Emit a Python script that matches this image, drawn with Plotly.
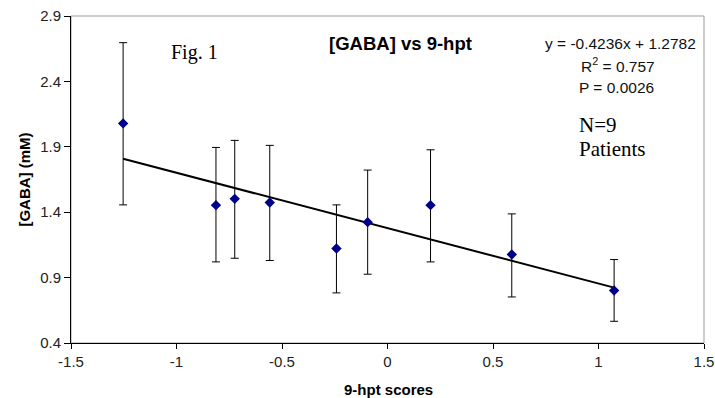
import plotly.graph_objects as go

# Data
hpt_scores = [-1.253, -0.813, -0.724, -0.558, -0.242, -0.094, 0.204, 0.589, 1.074]
gaba_mM = [2.079, 1.454, 1.502, 1.474, 1.122, 1.324, 1.454, 1.077, 0.801]
gaba_upper = [2.696, 1.895, 1.949, 1.911, 1.456, 1.722, 1.877, 1.387, 1.038]
gaba_lower = [1.456, 1.020, 1.048, 1.031, 0.783, 0.926, 1.020, 0.752, 0.566]

fit_slope = -0.4236
fit_intercept = 1.2782

x_tickvals = [-1.5, -1.0, -0.5, 0.0, 0.5, 1.0, 1.5]
x_ticktext = ["-1.5", "-1", "-0.5", "0", "0.5", "1", "1.5"]
y_tickvals = [0.4, 0.9, 1.4, 1.9, 2.4, 2.9]
y_ticktext = ["0.4", "0.9", "1.4", "1.9", "2.4", "2.9"]

err_plus = [u - v for u, v in zip(gaba_upper, gaba_mM)]
err_minus = [v - l for v, l in zip(gaba_mM, gaba_lower)]

fit_x = [min(hpt_scores), max(hpt_scores)]
fit_y = [fit_slope * x + fit_intercept for x in fit_x]

SANS = "Liberation Sans, Arial, sans-serif"
SERIF = "Liberation Serif, Times New Roman, serif"

fig = go.Figure()
fig.add_trace(go.Scatter(
    x=fit_x, y=fit_y, mode="lines",
    line=dict(color="black", width=2), showlegend=False, hoverinfo="skip"))
fig.add_trace(go.Scatter(
    x=hpt_scores, y=gaba_mM, mode="markers",
    marker=dict(symbol="diamond", size=8, color="#00008B"),
    error_y=dict(type="data", array=err_plus, arrayminus=err_minus,
                 color="black", thickness=1, width=4, symmetric=False),
    showlegend=False))

fig.add_shape(type="rect", xref="paper", yref="paper", x0=0, y0=0, x1=1, y1=1,
              line=dict(color="#999999", width=1), layer="below")

anns = [
    dict(text="<b>[GABA] vs 9-hpt</b>", x=0.520, y=0.916, font=dict(family=SANS, size=18.5, color="black")),
    dict(text="Fig. 1", x=0.195, y=0.888, font=dict(family=SERIF, size=20, color="black")),
    dict(text="y = -0.4236x + 1.2782", x=0.868, y=0.915, font=dict(family=SANS, size=15.5, color="#111111")),
    dict(text="R<sup>2</sup> = 0.757", x=0.864, y=0.850, font=dict(family=SANS, size=15.5, color="#111111")),
    dict(text="P = 0.0026", x=0.862, y=0.780, font=dict(family=SANS, size=15.5, color="#111111")),
    dict(text="N=9", x=0.800, y=0.666, xanchor="left", font=dict(family=SERIF, size=21, color="black")),
    dict(text="Patients", x=0.800, y=0.592, xanchor="left", font=dict(family=SERIF, size=21, color="black")),
    dict(text="<b>9-hpt scores</b>", x=0.502, y=-0.142, font=dict(family=SANS, size=15, color="black")),
]
for a in anns:
    a.setdefault("xanchor", "center")
    fig.add_annotation(xref="paper", yref="paper", showarrow=False, yanchor="middle", **a)

fig.update_layout(
    width=715, height=398,
    margin=dict(l=71, r=11, t=16, b=55),
    paper_bgcolor="white", plot_bgcolor="white",
    xaxis=dict(range=[-1.5, 1.5], tickvals=x_tickvals, ticktext=x_ticktext, automargin=False,
               showgrid=False, zeroline=False, showline=True, linecolor="black", linewidth=1,
               ticks="outside", ticklen=5, tickcolor="black",
               tickfont=dict(family=SANS, size=15, color="#222222")),
    yaxis=dict(range=[0.4, 2.9], tickvals=y_tickvals, ticktext=y_ticktext, automargin=False,
               showgrid=False, zeroline=False, showline=True, linecolor="black", linewidth=1,
               ticks="outside", ticklen=6, tickcolor="black",
               tickfont=dict(family=SANS, size=15, color="#222222"),
               title=dict(text="<b>[GABA] (mM)</b>", standoff=5,
                          font=dict(family=SANS, size=15, color="black"))),
)

fig.write_html("out.html", config={"displayModeBar": False},
               post_script="document.body.style.margin='0';document.body.style.overflow='hidden';")
